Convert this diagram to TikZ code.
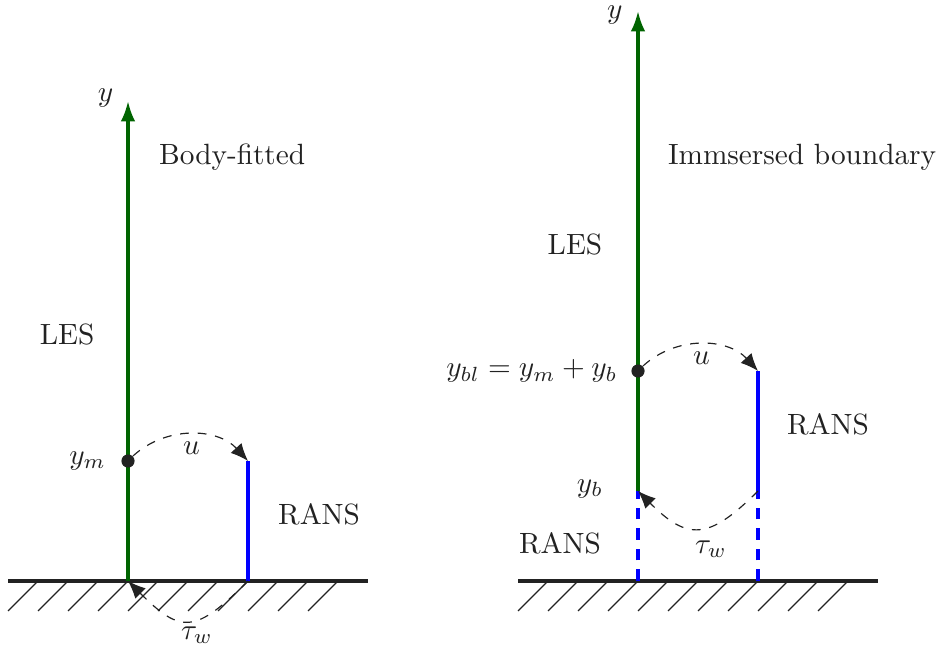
\documentclass[tikz,border=0pt]{standalone}
\usepackage{amsmath}
\usepackage{tikz}
\usetikzlibrary{positioning, calc, arrows.meta}

\definecolor{lesgreen}{RGB}{0,100,0}
\definecolor{ransblue}{RGB}{0,0,255}
\definecolor{inkgray}{RGB}{34,34,34}

\begin{document}
\begin{tikzpicture}[
		x=0.36cm, y=0.36cm,
		font=\normalsize,
		every node/.style={text=inkgray},
		% --- estilos ---
		wall/.style={line width=1.3pt, color=inkgray},
		hatch/.style={line width=0.4pt, color=inkgray},
		les_axis/.style={line width=1.1pt, color=lesgreen, -{Latex[length=7pt, width=5pt]}},
		rans_line/.style={line width=1.1pt, color=ransblue},
		rans_dash/.style={line width=1.1pt, color=ransblue, dash pattern=on 4pt off 3pt},
		transfer/.style={dashed, line width=0.4pt, color=inkgray, -{Latex[length=6pt, width=5pt]}},
		point/.style={circle, fill=inkgray, inner sep=0pt, minimum size=4.5pt}
		]
		
		\useasboundingbox (-4.267,-2.533) rectangle (27.067,19.367);
		
		% --- PANEL IZQUIERDO: BODY-FITTED ---
		\coordinate (o1) at (0,0);
		\coordinate (t1) at (0,16);
		\coordinate (b1) at (4,0);
		\coordinate (r1) at (4,4);
		\draw [wall] (-4,0) -- (8,0);
		\foreach \i in {-4,...,6}
			\draw [hatch] (\i,-1) -- ++(1,1);
		\draw [les_axis] (o1) -- (t1);
		\node (ym) [point] at (0,4) {};
		\draw [rans_line] (b1) -- (r1);
		
		\node (y1) at (-0.75,16.1) {$y$};
		\node (title1) at (3.47,14.13) {Body-fitted};
		\node (les1) at (-2.03,8.23) {LES};
		\node (ymlab) [left=0.15 of ym] {$y_m$};
		\node (rans1) at (6.37,2.23) {RANS};
		
		% transferencia de velocidad y esfuerzo
		\draw [transfer] (ym) to[bend left=45] node[pos=0.5, below=-1pt] (u1) {$u$} (r1);
		\draw [transfer] (b1) to[out=-135, in=-45, looseness=1.6] (o1);
		\node (tau1) at (2.3,-1.8) {$\tau_w$};
		
		% --- PANEL DERECHO: IMMERSED BOUNDARY ---
		\coordinate (o2) at (17,0);
		\coordinate (s2) at (17,3);
		\coordinate (t2) at (17,19);
		\coordinate (b2) at (21,0);
		\coordinate (m2) at (21,3);
		\coordinate (r2) at (21,7);
		\draw [wall] (13,0) -- (25,0);
		\foreach \i in {13,...,23}
			\draw [hatch] (\i,-1) -- ++(1,1);
		\draw [rans_dash] (o2) -- (s2);
		\draw [rans_dash] (b2) -- (m2);
		\draw [les_axis] (s2) -- (t2);
		\node (ybl) [point] at (17,7) {};
		\draw [rans_line] (m2) -- (r2);
		
		\node (y2) [inner sep=0.5pt] at (16.23,18.85) {$y$};
		\node (title2) at (22.47,14.13) {Immsersed boundary};
		\node (les2) at (14.9,11.23) {LES};
		\node (ybllab) [left=0.1 of ybl] {$y_{bl} = y_m + y_b$};
		\node (yb) at (15.4,3.07) {$y_b$};
		\node (rans2) at (23.33,5.23) {RANS};
		\node (rans3) at (14.4,1.27) {RANS};
		
		\draw [transfer] (ybl) to[bend left=45] node[pos=0.5, below=-1pt] (u2) {$u$} (r2);
		\draw [transfer] (m2) to[out=-135, in=-45, looseness=1.5] (s2);
		\node (tau2) at (19.43,1.07) {$\tau_w$};
		
	\end{tikzpicture}
\end{document}
